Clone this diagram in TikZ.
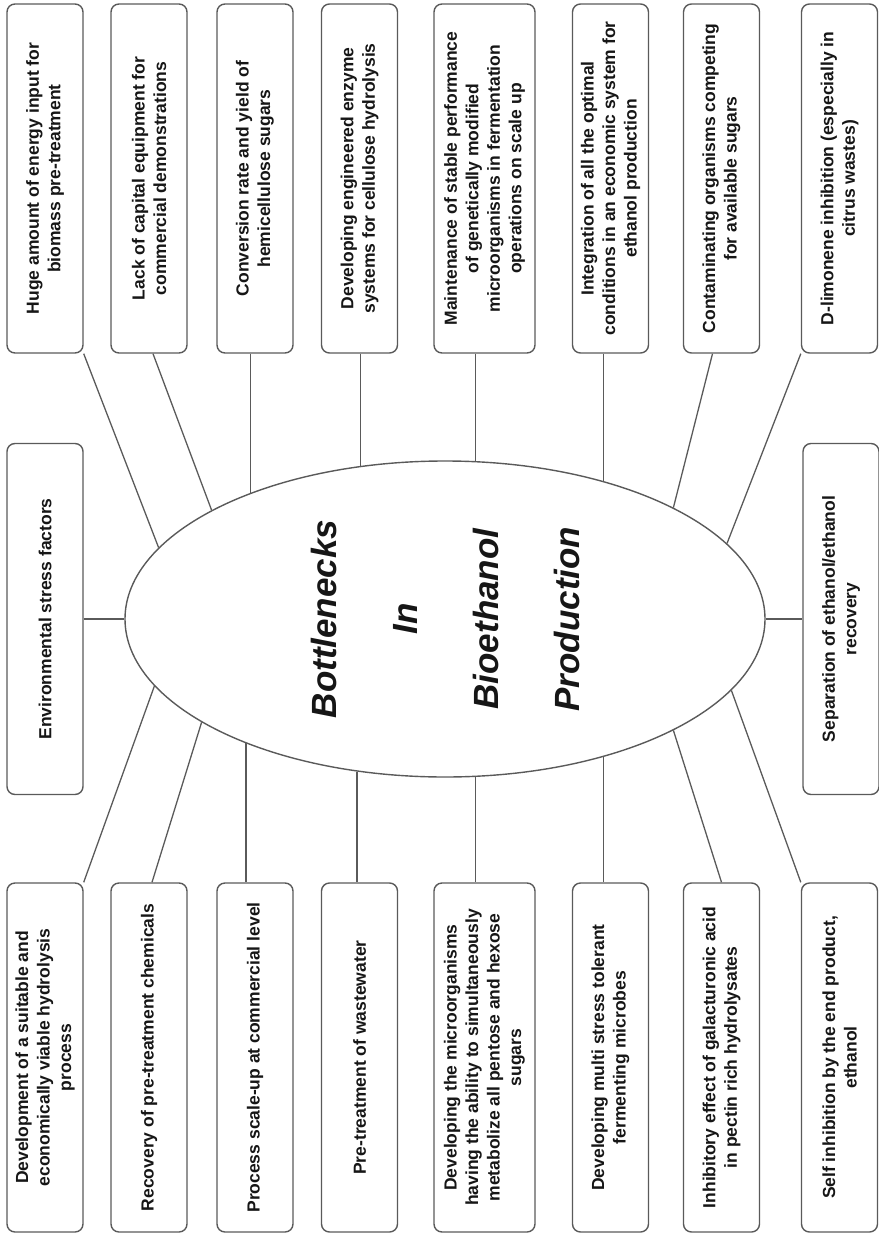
\documentclass[tikz,border=0pt]{standalone}
\usepackage{fontspec}
\setmainfont{Liberation Sans}
\usepackage{tikz}
\usetikzlibrary{shapes.geometric,calc}

\definecolor{edgegray}{HTML}{5A5A5A}
\definecolor{inkgray}{HTML}{161616}

\begin{document}
\begin{tikzpicture}[
  x=1pt, y=-1pt,
  issue/.style={rectangle, draw=edgegray, rounded corners=8pt, line width=1.4pt,
                rotate=90, minimum width=349pt, minimum height=#1,
                inner sep=0pt, align=center, text=inkgray,
                font=\fontsize{17.5}{21.5}\selectfont\bfseries},
  issue/.default=76pt,
  hub/.style={ellipse, draw=edgegray, line width=1.4pt,
              minimum width=640pt, minimum height=316pt, inner sep=0pt},
  hubtext/.style={rotate=90, align=center, text=inkgray, inner sep=0pt,
                  font=\fontsize{35}{81}\selectfont\bfseries\itshape},
  link/.style={draw=edgegray, line width=1.3pt}
]
  \useasboundingbox (0,0) rectangle (878,1233);

  % Centre
  \node[hub] (ell) at (445,619) {};
  \node[hubtext] (ttl) at (ell.center) {Bottlenecks\\In\\Bioethanol\\Production};

  % Top row
  \node[issue] (t1) at (45,178.5) {Huge amount of energy input for\\biomass pre-treatment};
  \node[issue] (t2) at (149,178.5) {Lack of capital equipment for\\commercial demonstrations};
  \node[issue] (t3) at (255,178.5) {Conversion rate and yield of\\hemicellulose sugars};
  \node[issue] (t4) at (359.5,178.5) {Developing engineered enzyme\\systems for cellulose hydrolysis};
  \node[issue=101pt] (t5) at (484.5,178.5) {Maintenance of stable performance\\of genetically modified\\microorganisms in fermentation\\operations on scale up};
  \node[issue] (t6) at (610.5,178.5) {Integration of all the optimal\\conditions in an economic system for\\ethanol production};
  \node[issue] (t7) at (721.5,178.5) {Contaminating organisms competing\\for available sugars};
  \node[issue] (t8) at (839.5,178.5) {D-limonene inhibition (especially in\\citrus wastes)};

  % Sides
  \node[issue, minimum width=351pt] (env) at (45,619) {Environmental stress factors};
  \node[issue, minimum width=351pt] (sep) at (841,619) {Separation of ethanol/ethanol\\recovery};

  % Bottom row
  \node[issue] (b1) at (45,1057.5) {Development of a suitable and\\economically viable hydrolysis\\process};
  \node[issue] (b2) at (149,1057.5) {Recovery of pre-treatment chemicals};
  \node[issue] (b3) at (255,1057.5) {Process scale-up at commercial level};
  \node[issue] (b4) at (359.5,1057.5) {Pre-treatment of wastewater};
  \node[issue=101pt] (b5) at (484.5,1057.5) {Developing the microorganisms\\having the ability to simultaneously\\metabolize all pentose and hexose\\sugars};
  \node[issue] (b6) at (610.5,1057.5) {Developing multi stress tolerant\\fermenting microbes};
  \node[issue] (b7) at (721.5,1057.5) {Inhibitory effect of galacturonic acid\\in pectin rich hydrolysates};
  \node[issue] (b8) at (839.5,1057.5) {Self inhibition by the end product,\\ethanol};

  % Links, top row
  \draw[link] (t1.south west) -- (ell.166.9);
  \draw[link] ($(t2.west)+(4,0)$) -- (ell.155.8);
  \draw[link] (t3.west -| ell.147.9) -- (ell.147.9);
  \draw[link] (t4.west -| ell.119.8) -- (ell.119.8);
  \draw[link] (t5.west -| ell.79.2) -- (ell.79.2);
  \draw[link] (t6.west -| ell.41) -- (ell.41);
  \draw[link] ($(t7.west)+(-9,0)$) -- (ell.26.5);
  \draw[link] (t8.north west) -- (ell.15);

  % Links, sides
  \draw[link] (env.south) -- (ell.west);
  \draw[link] (ell.east) -- (sep.north);

  % Links, bottom row
  \draw[link] (ell.193.8) -- (b1.south east);
  \draw[link] (ell.203) -- ($(b2.east)+(3,0)$);
  \draw[link] (ell.212.7) -- (ell.212.7 |- b3.east);
  \draw[link] (ell.240.8) -- (ell.240.8 |- b4.east);
  \draw[link] (ell.281.9) -- (ell.281.9 |- b5.east);
  \draw[link] (ell.319.9) -- (ell.319.9 |- b6.east);
  \draw[link] (ell.334) -- (b7.east);
  \draw[link] (ell.346.6) -- (b8.north east);
\end{tikzpicture}
\end{document}
